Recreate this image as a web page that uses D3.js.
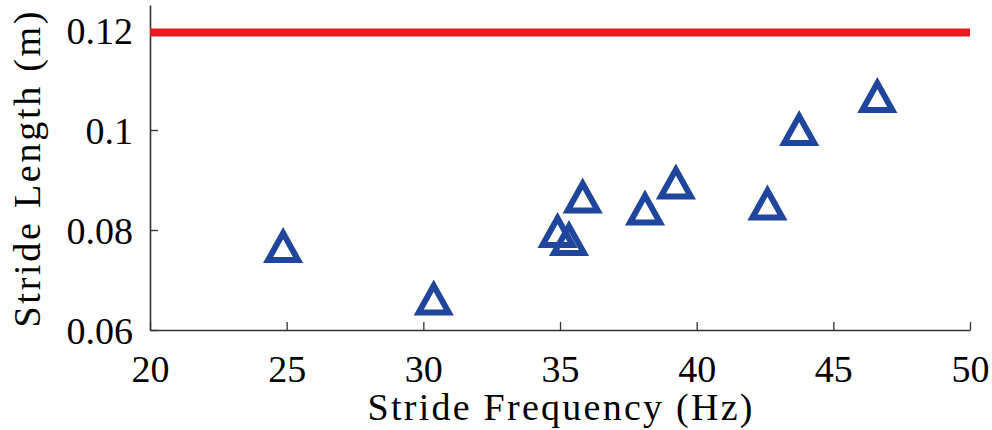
<!DOCTYPE html>
<html>
<head>
<meta charset="utf-8">
<script src="https://cdn.jsdelivr.net/npm/d3@7"></script>
<style>
  body { margin: 0; background: #fff; }
  svg text { font-family: "Liberation Serif", "DejaVu Serif", "Times New Roman", serif !important; fill: #000; }
</style>
</head>
<body>
<div id="chart"></div>
<script>
// stride data
const frequency = [24.87, 30.38, 34.91, 35.33, 35.83, 38.11, 39.24, 42.59, 43.75, 46.61];
const strideLength = [0.0770, 0.0665, 0.0800, 0.0784, 0.0869, 0.0845, 0.0897, 0.0855, 0.1004, 0.1070];
const limitLength = 0.1195;
const xTicks = [20, 25, 30, 35, 40, 45, 50];
const yTicks = [0.06, 0.08, 0.1, 0.12];

const width = 992;
const height = 430;
const margin = { top: 5, right: 22, bottom: 100, left: 150 };

const x = d3.scaleLinear().domain([20, 50]).range([margin.left, width - margin.right]);
const y = d3.scaleLinear().domain([0.06, 0.125]).range([height - margin.bottom, margin.top]);

const svg = d3.select("#chart")
  .append("svg")
  .attr("width", width)
  .attr("height", height);

// axes with inward ticks
const xAxis = svg.append("g")
  .attr("transform", `translate(0,${y(0.06)})`)
  .call(d3.axisBottom(x).tickValues(xTicks).tickSize(-8).tickSizeOuter(0).tickPadding(16)
    .tickFormat(d3.format("d")));

const yAxis = svg.append("g")
  .attr("transform", `translate(${x(20)},0)`)
  .call(d3.axisLeft(y).tickValues(yTicks).tickSize(-8).tickSizeOuter(0).tickPadding(17)
    .tickFormat((d) => (d === 0.1 ? "0.1" : d3.format(".2f")(d))));

[xAxis, yAxis].forEach((g) => {
  g.attr("font-family", null);
  g.select(".domain").attr("stroke", "#333").attr("stroke-width", 1.6);
  g.selectAll(".tick line").attr("stroke", "#333").attr("stroke-width", 1.3);
  g.selectAll(".tick text")
    .attr("font-size", 38)
    .attr("fill", "#000");
});
xAxis.selectAll(".tick text").attr("dy", "0.95em");
yAxis.selectAll(".tick text").attr("dy", "0.36em");

// red limit line
svg.append("line")
  .attr("x1", x(20))
  .attr("x2", x(50))
  .attr("y1", y(limitLength))
  .attr("y2", y(limitLength))
  .attr("stroke", "#e8191f")
  .attr("stroke-width", 8);

// triangle markers
const tri = "M0,-11.9L15,15.1L-15,15.1Z";
svg.append("g")
  .selectAll("path")
  .data(frequency.map((f, i) => ({ f, l: strideLength[i] })))
  .join("path")
  .attr("d", tri)
  .attr("transform", (d) => `translate(${x(d.f)},${y(d.l)})`)
  .attr("fill", "none")
  .attr("stroke", "#1f459d")
  .attr("stroke-width", 6);

// axis labels
svg.append("text")
  .attr("x", (x(20) + x(50)) / 2)
  .attr("y", 420)
  .attr("text-anchor", "middle")
  .attr("font-size", 38)
  .attr("textLength", 385)
  .attr("lengthAdjust", "spacing")
  .text("Stride Frequency (Hz)");

svg.append("text")
  .attr("transform", `translate(40,${(y(0.06) + margin.top) / 2 + 2}) rotate(-90)`)
  .attr("text-anchor", "middle")
  .attr("font-size", 38)
  .attr("textLength", 316)
  .attr("lengthAdjust", "spacing")
  .text("Stride Length (m)");
</script>
</body>
</html>
